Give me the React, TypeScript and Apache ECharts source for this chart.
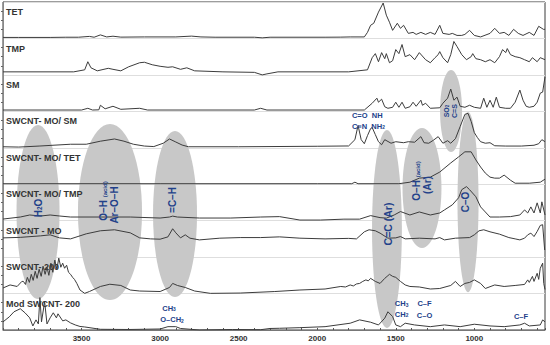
import React, { useEffect, useRef } from 'react';
import * as echarts from 'echarts';

// Stacked FTIR spectra: each panel is PANEL units high, values are heights above the panel floor
const PANEL = 36;
const NAMES = ['TET', 'TMP', 'SM', 'SWCNT- MO/ SM', 'SWCNT- MO/ TET', 'SWCNT- MO/ TMP', 'SWCNT - MO', 'SWCNT- 200', 'Mod SWCNT- 200'];
const X_TICKS = [3500, 3000, 2500, 2000, 1500, 1000];

const TET: number[][] = [[4000,1],[3900,1],[3700,1],[3600,1.2],[3520,1.2],[3450,2],[3420,1.2],[3380,3.5],[3340,1.5],[3300,2.2],[3250,1.3],[3100,1.5],[2900,1.5],[2800,2.3],[2740,1.5],[2650,1.2],[2400,1.2],[2350,0.6],[2300,1.2],[1950,1.2],[1850,1.3],[1790,1.5],[1700,1.5],[1680,6],[1660,13],[1640,15],[1610,26],[1580,35],[1560,23],[1540,16],[1520,8],[1490,15],[1470,10],[1450,13],[1420,5],[1390,6],[1370,4],[1340,6],[1310,4],[1280,6],[1250,4],[1220,13],[1200,5],[1160,4],[1140,5],[1110,3],[1080,3],[1060,4],[1030,8],[1000,3],[960,1.5],[900,5],[870,10],[840,5],[810,6],[780,3],[750,9],[720,5],[690,3],[650,6],[620,3],[590,12],[560,9],[550,9]];

const TMP: number[][] = [[4000,3],[3550,3],[3480,5],[3460,13],[3440,7],[3400,4],[3330,6.5],[3300,5.5],[3250,4],[3200,8],[3130,12],[3100,12.5],[3050,10],[3000,8.5],[2950,7.5],[2920,8],[2870,5.5],[2830,7],[2780,4],[2600,3],[2400,2.5],[2350,0],[2320,1],[2250,3],[1800,3],[1680,5],[1650,17],[1630,21],[1610,13],[1590,22],[1570,16],[1560,21],[1540,12],[1520,14],[1500,25],[1480,21],[1460,30],[1440,18],[1410,20],[1380,15],[1350,22],[1310,15],[1280,12],[1250,17],[1230,20],[1220,23],[1200,17],[1170,12],[1150,20],[1130,33],[1110,28],[1080,20],[1050,15],[1020,18],[1010,21],[990,16],[960,15],[930,13],[900,15],[870,12],[840,18],[820,25],[800,22],[790,26],[770,20],[740,18],[710,17],[680,15],[650,13],[630,17],[600,13],[580,17],[550,15]];

const SM: number[][] = [[4000,1.3],[3500,1.3],[3460,3],[3430,1.3],[3390,1.5],[3380,6],[3350,2.5],[3300,5],[3250,2],[3130,3],[3080,1.3],[2400,1.3],[2360,3],[2320,1.3],[1700,1.3],[1650,8],[1620,13],[1610,9],[1590,12],[1570,4.5],[1550,3],[1520,4],[1500,9],[1480,4],[1460,9],[1440,3],[1410,4.5],[1390,9],[1370,5],[1340,11],[1330,6],[1310,8],[1280,3],[1220,3.5],[1200,8],[1170,13],[1150,22],[1130,11],[1110,14],[1090,5],[1060,4],[1030,6],[1000,4],[960,3],[940,13],[920,4],[900,11],[880,4],[860,14],[840,4],[800,3],[770,3],[740,9],[710,21],[690,11],[670,5],[650,4],[620,5],[600,9],[580,18],[565,19],[550,34]];

const MO_SM: number[][] = [[4000,1],[3900,0.7],[3770,1.7],[3570,3.5],[3470,3.5],[3380,6.5],[3290,8.7],[3230,6.5],[3170,3.5],[3100,1.7],[3040,1.2],[2980,4.5],[2940,8.7],[2900,5.7],[2860,2.7],[2820,1],[2500,1],[2000,1.5],[1800,1.8],[1760,8],[1740,22],[1720,8],[1700,4],[1680,12],[1660,19],[1650,20],[1630,13],[1610,6],[1590,3],[1570,8],[1530,4.5],[1500,6],[1450,5],[1420,6],[1380,5.5],[1340,11],[1320,5],[1290,4.5],[1260,7.5],[1230,11],[1200,4.5],[1170,7],[1150,4.5],[1120,9],[1090,21],[1060,33],[1040,34],[1020,26],[1000,15],[980,10],[960,6],[930,4.5],[900,5],[870,2],[800,1.7],[700,1.7],[620,2.5],[590,4],[570,8],[550,6]];

const MO_TET: number[][] = [[4000,0.5],[3000,0.5],[2000,0.5],[1780,0.5],[1760,2],[1740,0.5],[1480,0.5],[1410,2],[1350,6],[1280,7],[1220,12],[1150,21],[1100,27],[1060,32],[1020,32],[990,24],[960,17],[930,11],[900,7],[870,6],[840,6],[810,9],[770,4],[740,1],[650,1],[580,2],[550,5]];

const MO_TMP: number[][] = [[4000,1.6],[3890,3.6],[3830,5.6],[3760,4.6],[3700,5.6],[3640,4.6],[3570,3.6],[3380,3.6],[3190,3.6],[3000,2.6],[2940,3.6],[2920,4.5],[2890,3.6],[2750,2.6],[2550,2.6],[2360,3.6],[2240,4],[2110,0.6],[1980,0.6],[1830,1.5],[1730,1.5],[1660,5],[1600,3],[1560,2.5],[1510,5.6],[1470,9],[1410,5.6],[1350,8.6],[1280,5.6],[1220,7.6],[1190,10.6],[1140,15.6],[1100,22.6],[1080,30.6],[1050,33.6],[1030,30.6],[990,23.6],[960,13.6],[930,8.6],[900,3.6],[840,3.6],[770,4],[710,5.6],[680,10.6],[660,7.6],[640,13.6],[620,7.6],[600,17.6],[580,7.6],[570,18.6],[550,5.6]];

const MO: number[][] = [[4000,19],[3890,19.5],[3760,21],[3700,22],[3640,19],[3570,18],[3470,23],[3380,26],[3290,27],[3190,24],[3130,19],[3060,18],[3000,17.7],[2950,20],[2920,28],[2900,24],[2870,19],[2840,22],[2810,18.7],[2750,17],[2620,18.7],[2490,19.3],[2360,19.3],[2240,20],[2110,18.7],[1950,18],[1800,18.5],[1750,18],[1700,25],[1670,27],[1630,26],[1600,23.7],[1550,18.7],[1500,19],[1470,20.3],[1440,18],[1350,18.7],[1250,18],[1220,19.3],[1190,17],[1120,18.7],[1030,19.3],[1000,22],[970,26],[940,27],[900,25],[840,22.7],[780,19.3],[740,18],[710,17],[680,18.7],[660,22],[640,23.7],[620,20.3],[600,25.3],[580,31.3],[565,32],[552,7],[550,7]];

const S200: number[][] = [[4000,5.5],[3955,8.5],[3910,7],[3880,12],[3870,12],[3857,9],[3845,16],[3832,11],[3820,19],[3808,13],[3795,22],[3783,15],[3770,24],[3757,17],[3745,27],[3732,19],[3720,26],[3708,18],[3695,30],[3683,21],[3670,33],[3657,24],[3645,35],[3632,26],[3620,30],[3608,25],[3595,28],[3583,21],[3570,19],[3557,16],[3545,14],[3530,10],[3510,3.5],[3480,0.2],[3450,2],[3380,7],[3320,9.2],[3250,8],[3190,3.5],[3130,2.5],[3000,2],[2940,6],[2920,10],[2890,8],[2840,6],[2780,2.5],[2680,0.2],[2490,0.5],[2270,2],[2110,3.5],[1950,4.5],[1850,7],[1820,6.5],[1790,8.5],[1770,7.5],[1750,9.5],[1730,10],[1710,12],[1690,13.5],[1675,12.5],[1660,15],[1645,13.5],[1630,12],[1600,10],[1570,15],[1555,17],[1540,19],[1520,17],[1500,16],[1470,12],[1440,8.5],[1410,7],[1350,6.5],[1280,4.5],[1220,5],[1150,8],[1120,12],[1090,7],[1060,10],[1030,11],[1000,13.5],[960,10],[930,5],[870,8.5],[810,7],[740,8],[680,9],[660,13.5],[650,11],[630,17],[620,12],[600,20],[590,14],[580,25],[565,30],[558,10],[550,4]];

const MOD: number[][] = [[4000,8],[3960,13],[3930,18],[3890,21],[3860,17],[3830,12],[3810,4],[3790,10],[3775,6],[3765,32],[3755,8],[3735,28],[3720,6],[3700,12],[3680,17],[3660,12],[3650,16],[3620,9],[3600,10],[3570,7],[3540,5],[3510,3.5],[3480,3],[3380,0.7],[3200,0.5],[3000,1],[2950,3.3],[2900,3.3],[2870,1.5],[2750,0],[2540,0.5],[2360,0.3],[2300,1.5],[2240,1.7],[2110,2.3],[1950,3.3],[1790,6.7],[1730,10],[1660,7.7],[1610,5],[1570,11.7],[1550,18],[1520,13.3],[1500,5],[1470,3.3],[1440,6.7],[1380,5],[1280,3.3],[1190,5],[1090,3.3],[1000,5.7],[900,4],[810,3.3],[710,5],[680,6.7],[650,4],[580,5],[565,10],[550,8]];

const SPECTRA = [TET, TMP, SM, MO_SM, MO_TET, MO_TMP, MO, S200, MOD];

// grey highlight ellipses: [centre wavenumber, centre value, half width (cm-1), half height (units)]
const ELLIPSES: number[][] = [[3777,116.6,137,86],[3319,116.6,204,87],[2905,114.6,140,82],[1556,99.8,95,97.8],[1333,140.3,124,59.3],[1148,216.3,70,40.5],[1040,126.4,67,89]];

// blue band assignments: [wavenumber, value, text, vertical?, size, align]
const NOTES: [number, number, string, number, number, string][] = [
  [1779, 211.4, 'C=O  NH', 0, 7.5, 'left'],
  [1779, 201.5, 'C≡N  NH{b|2}', 0, 7.5, 'left'],
  [1180, 216.3, 'SO{b|2}', 1, 7, 'center'],
  [1129, 216.3, 'C=S', 1, 7, 'center'],
  [3777, 120.5, 'H{b|2}O', 1, 10, 'center'],
  [3363, 127.4, 'O–H {s|(acid)}', 1, 10, 'center'],
  [3293, 123.5, 'Ar–O–H', 1, 10, 'center'],
  [2918, 128.4, '=C–H', 1, 10, 'center'],
  [1549, 104.7, 'C=C (Ar)', 1, 10.5, 'center'],
  [1370, 147.2, 'O–H {s|(acid)}', 1, 10, 'center'],
  [1301, 143.2, '(Ar)', 1, 10, 'center'],
  [1059, 126.4, 'C–O', 1, 10, 'center'],
  [2943, 21.7, 'CH{b|3}', 0, 7.5, 'center'],
  [2924, 9.9, 'O–CH{b|2}', 0, 7.5, 'center'],
  [1463, 25.7, 'CH{b|3}', 0, 7.5, 'center'],
  [1463, 15.8, 'CH{b|2}', 0, 7.5, 'center'],
  [1317, 25.7, 'C–F', 0, 7.5, 'center'],
  [1317, 14.8, 'C–O', 0, 7.5, 'center'],
  [703, 13.8, 'C–F', 0, 7.5, 'center'],
];

const NARROW = '"Liberation Sans Narrow", "Arial Narrow", "Liberation Sans", sans-serif';
const SANS = '"Liberation Sans", Arial, sans-serif';
const BLUE = '#22418a';

export default function App() {
  const ref = useRef<HTMLDivElement>(null);
  useEffect(() => {
    if (!ref.current) return;
    const chart = echarts.init(ref.current, null, { renderer: 'svg' });
    const n = SPECTRA.length;
    const lineSeries = SPECTRA.map((sp, i) => ({
      type: 'line',
      name: NAMES[i],
      data: sp.map(([w, h]) => [w, (n - 1 - i) * PANEL + h]),
      showSymbol: false,
      symbol: 'none',
      lineStyle: { color: '#3c3c3c', width: 1 },
      z: 4,
      animation: false,
    }));
    const option: any = {
      animation: false,
      grid: { left: 3, right: 5, top: 2, bottom: 15, show: true, borderColor: '#3a3a3a', borderWidth: 1 },
      xAxis: {
        type: 'value', inverse: true, min: 550, max: 4000, splitNumber: 7,
        axisLine: { lineStyle: { color: '#777' } },
        axisTick: { show: true, inside: true, length: 2, lineStyle: { color: '#555' } },
        minorTick: { show: true, splitNumber: 5, length: 2, lineStyle: { color: '#555' } },
        splitLine: { show: false },
        axisLabel: {
          margin: 4, fontSize: 8, fontWeight: 'bold', color: '#333', fontFamily: NARROW,
          formatter: (v: number) => (X_TICKS.indexOf(v) >= 0 ? String(v) : ''),
        },
      },
      yAxis: {
        type: 'value', min: 0, max: n * PANEL, interval: PANEL,
        axisLine: { show: true, lineStyle: { color: '#888' } },
        axisTick: { show: false },
        minorTick: { show: true, splitNumber: 4, length: 2, lineStyle: { color: '#666' } },
        axisLabel: { show: false },
        splitLine: { show: true, lineStyle: { color: '#dedede', width: 1 } },
      },
      series: [
        {
          type: 'custom', z: 1, silent: true, clip: true,
          data: ELLIPSES,
          encode: { x: 0, y: 1 },
          renderItem: (params: any, api: any) => {
            const c = api.coord([api.value(0), api.value(1)]);
            const s = api.size([api.value(2), api.value(3)], [api.value(0), api.value(1)]);
            return { type: 'ellipse', shape: { cx: c[0], cy: c[1], rx: Math.abs(s[0]), ry: Math.abs(s[1]) }, style: { fill: '#c8c8c8' } };
          },
        },
        ...lineSeries,
        {
          type: 'custom', z: 3, silent: true, clip: false,
          data: NAMES.map((_, i) => [3981, (n - i) * PANEL - 10]),
          encode: { x: 0, y: 1 },
          renderItem: (params: any, api: any) => {
            const c = api.coord([api.value(0), api.value(1)]);
            return {
              type: 'text', x: c[0], y: c[1],
              style: { text: NAMES[params.dataIndex], fill: '#333', fontSize: 9, fontWeight: 'bold', fontFamily: NARROW, align: 'left', verticalAlign: 'middle' },
            };
          },
        },
        {
          type: 'custom', z: 6, silent: true, clip: false,
          data: NOTES.map((t) => [t[0], t[1]]),
          encode: { x: 0, y: 1 },
          renderItem: (params: any, api: any) => {
            const t = NOTES[params.dataIndex];
            const c = api.coord([api.value(0), api.value(1)]);
            return {
              type: 'text', x: c[0], y: c[1], rotation: t[3] ? Math.PI / 2 : 0,
              style: {
                text: t[2], fill: BLUE, fontSize: t[4], fontWeight: 'bold', fontFamily: SANS,
                align: t[5], verticalAlign: 'middle',
                rich: {
                  s: { fontSize: t[4] * 0.6, fontWeight: 'bold', fontFamily: SANS, fill: BLUE, verticalAlign: 'bottom' },
                  b: { fontSize: t[4] * 0.65, fontWeight: 'bold', fontFamily: SANS, fill: BLUE, verticalAlign: 'bottom' },
                },
              },
            };
          },
        },
      ],
    };
    chart.setOption(option);
    return () => chart.dispose();
  }, []);
  return <div ref={ref} style={{ position: 'fixed', left: 0, top: 0, width: 550, height: 345, background: '#fff' }} />;
}
